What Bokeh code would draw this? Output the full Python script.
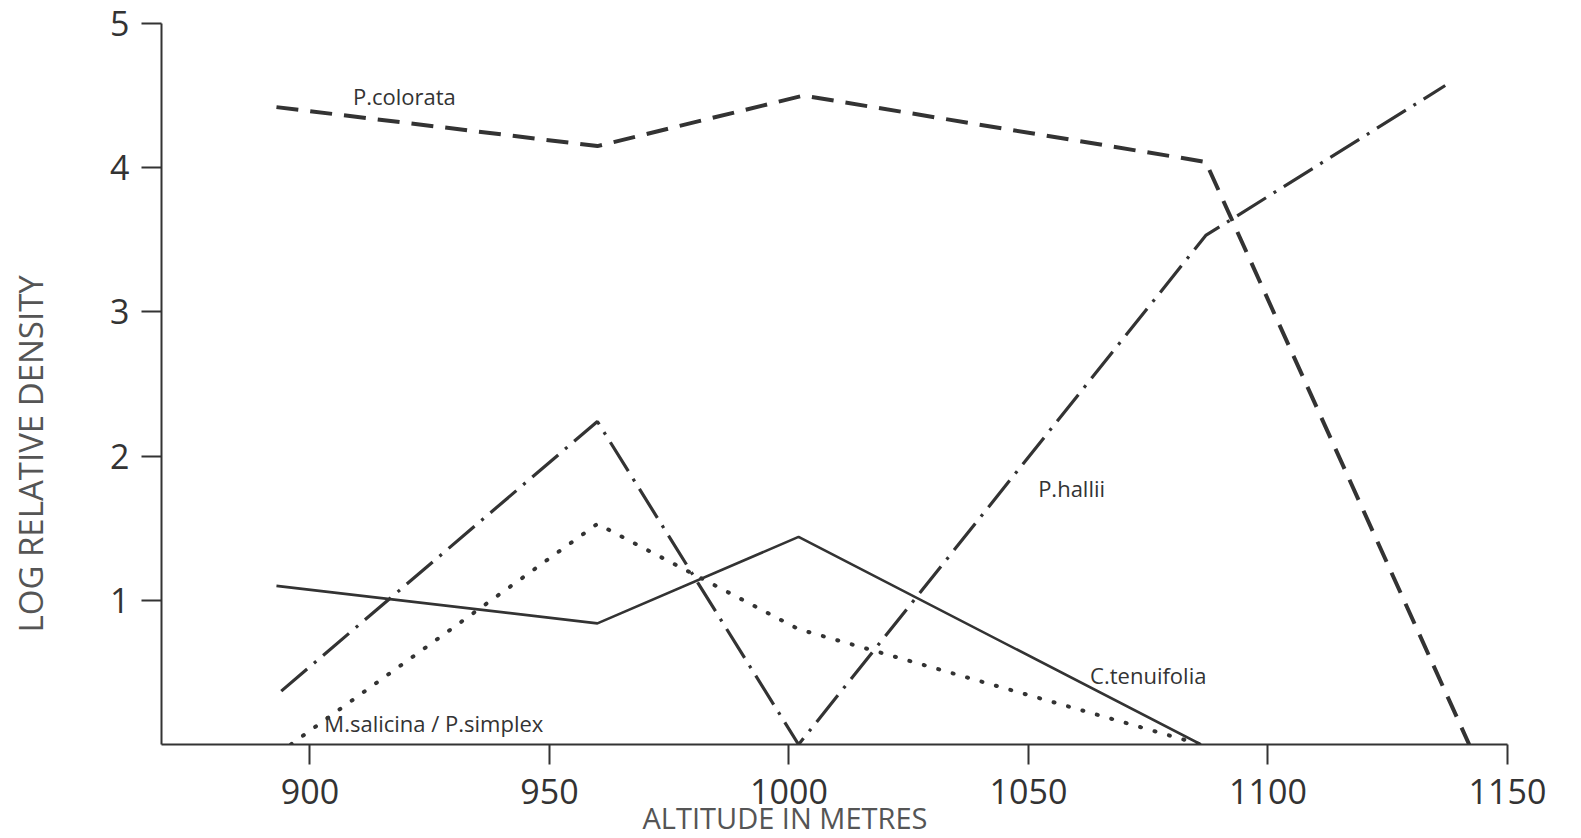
from bokeh.plotting import figure
from bokeh.models import Label, FixedTicker, Range1d, Title
from bokeh.embed import file_html
from bokeh.resources import INLINE

# ---- data ----
colorata_alt = [893, 960, 1003, 1087, 1142]
colorata_val = [4.42, 4.15, 4.50, 4.04, 0.0]

hallii_alt = [894, 960, 1002, 1087, 1137]
hallii_val = [0.37, 2.24, 0.0, 3.53, 4.57]

tenuifolia_alt = [893, 960, 1002, 1086]
tenuifolia_val = [1.10, 0.84, 1.44, 0.0]

salicina_alt = [896, 960, 1002, 1086]
salicina_val = [0.0, 1.53, 0.80, 0.0]

x_ticks = [900, 950, 1000, 1050, 1100, 1150]
y_ticks = [1, 2, 3, 4, 5]

INK = "#333333"
FONT = "Open Sans"

p = figure(width=1575, height=838,
           x_range=Range1d(869, 1150), y_range=Range1d(0, 5),
           output_backend="svg", toolbar_location=None,
           min_border_left=161, min_border_right=68,
           min_border_top=23, min_border_bottom=94)
p.xgrid.visible = False
p.ygrid.visible = False
p.outline_line_color = None
p.background_fill_color = "white"
p.border_fill_color = "white"

for ax in (p.xaxis, p.yaxis):
    ax.axis_line_color = INK
    ax.axis_line_width = 2
    ax.major_tick_line_color = INK
    ax.major_tick_line_width = 2
    ax.major_tick_in = 0
    ax.major_tick_out = 20
    ax.minor_tick_in = 0
    ax.minor_tick_out = 0
    ax.major_label_text_font = FONT
    ax.major_label_text_color = INK

p.xaxis.ticker = FixedTicker(ticks=x_ticks)
p.yaxis.ticker = FixedTicker(ticks=y_ticks)
p.xaxis.major_label_text_font_size = "34px"
p.yaxis.major_label_text_font_size = "34px"
p.xaxis.major_label_standoff = 14
p.yaxis.major_label_standoff = 12

# series
p.line(colorata_alt, colorata_val, line_color=INK, line_width=4,
       line_dash="22 12")
p.line(hallii_alt, hallii_val, line_color=INK, line_width=3.2,
       line_dash="34 9 3 9")
p.line(tenuifolia_alt, tenuifolia_val, line_color=INK, line_width=2.6)
p.line(salicina_alt, salicina_val, line_color=INK, line_width=4,
       line_dash="1 14", line_cap="round")

# series labels
for txt, x, y, align in [("P.colorata", 919.7, 4.50, "center"),
                         ("P.hallii", 1059.0, 1.78, "center"),
                         ("C.tenuifolia", 1075.0, 0.48, "center"),
                         ("M.salicina / P.simplex", 903.0, 0.15, "left")]:
    p.add_layout(Label(x=x, y=y, text=txt, text_align=align,
                       text_baseline="middle", text_font=FONT,
                       text_font_size="22px", text_color=INK))

# axis titles (as titles so they are not clipped to the frame)
ytitle = Title(text="LOG RELATIVE DENSITY\n", align="left", offset=112,
               vertical_align="top", standoff=15, text_font=FONT,
               text_font_size="33px", text_font_style="normal",
               text_color="#555555")
p.add_layout(ytitle, "left")
xtitle = Title(text="ALTITUDE IN METRES", align="left", offset=481,
               vertical_align="bottom", standoff=-22, text_font=FONT,
               text_font_size="29px", text_font_style="normal",
               text_color="#555555")
p.add_layout(xtitle, "below")

open("out.html", "w").write(file_html(p, INLINE))
